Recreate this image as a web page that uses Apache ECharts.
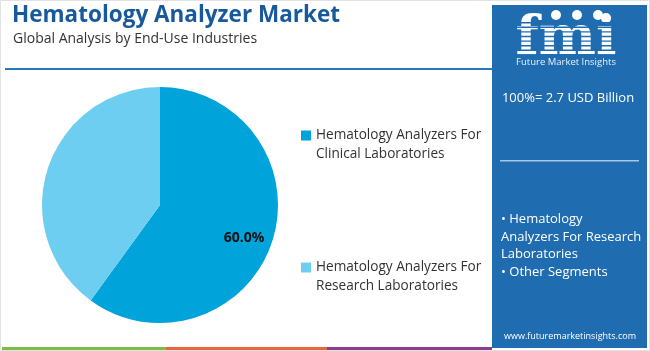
<!DOCTYPE html>
<html><head><meta charset="utf-8">
<script src="https://cdn.jsdelivr.net/npm/echarts@6/dist/echarts.min.js"></script>
<style>html,body{margin:0;padding:0;background:#fff}#c{width:650px;height:351px}</style>
</head><body><div id="c"></div>
<script>
const categories = ['Hematology Analyzers For Clinical Laboratories', 'Hematology Analyzers For Research Laboratories'];
const legendLabels = ['Hematology Analyzers For\nClinical Laboratories', 'Hematology Analyzers For\nResearch Laboratories'];
const values = [60.0, 40.0];
const colors = ['#00a3da', '#6dcef1'];
const labelShown = [true, false];

const chart = echarts.init(document.getElementById('c'), null, {renderer: 'canvas'});
const FONT = '"Open Sans", sans-serif';
const panel = '#1f6cb0';

const data = categories.map((n, i) => ({name: n, value: values[i], itemStyle: {color: colors[i]}}));
const labelData = categories.map((n, i) => ({
  name: n, value: values[i],
  itemStyle: {color: 'rgba(0,0,0,0)'},
  label: {show: labelShown[i]}
}));

const stripes = [];
for (let k = 0; k < 8; k++) {
  stripes.push({type: 'rect', shape: {x: 512, y: 22 + k * 4.6, width: 110, height: 1.4}, style: {fill: panel}, z: 12});
}

chart.setOption({
  backgroundColor: '#fff',
  animation: false,
  legend: {
    orient: 'vertical',
    left: 296,
    top: 102,
    itemGap: 75,
    itemWidth: 10,
    itemHeight: 10,
    icon: 'rect',
    data: categories,
    formatter: name => '\n' + legendLabels[categories.indexOf(name)],
    textStyle: {fontFamily: FONT, fontSize: 13.6, color: '#333', lineHeight: 19},
    selectedMode: false
  },
  series: [
    {
      type: 'pie',
      center: [160, 205],
      radius: [0, 118],
      startAngle: 90,
      clockwise: true,
      data: data,
      label: {show: false},
      labelLine: {show: false},
      silent: true
    },
    {
      type: 'pie',
      center: [160, 205],
      radius: [57, 118],
      startAngle: 90,
      clockwise: true,
      data: labelData,
      legendHoverLink: false,
      silent: true,
      z: 5,
      label: {
        position: 'inside',
        offset: [-2, 5],
        formatter: p => p.value.toFixed(1) + '%',
        fontFamily: FONT, fontWeight: 'bold', fontSize: 14, color: '#111'
      },
      labelLine: {show: false}
    }
  ],
  graphic: [
    {type: 'rect', shape: {x: 0.5, y: 0.5, width: 649, height: 350}, style: {fill: 'none', stroke: '#e2e2e2', lineWidth: 1}, z: 1},
    {type: 'text', left: 12, top: 4, style: {text: 'Hematology Analyzer Market', fill: '#17599b', font: 'bold 22.5px ' + FONT}},
    {type: 'text', left: 13, top: 32, style: {text: 'Global Analysis by End-Use Industries', fill: '#333', font: '14px ' + FONT}},
    {type: 'rect', shape: {x: 5, y: 68, width: 487, height: 2}, style: {fill: '#2c76ba'}},
    {type: 'rect', shape: {x: 492, y: 5, width: 155, height: 343}, style: {fill: panel}, z: 10},
    {type: 'text', x: 566, y: 40, style: {text: 'fmi', fill: '#fff', font: 'bold 54px "DejaVu Serif", serif', textAlign: 'center', textVerticalAlign: 'middle'}, z: 11},
    ...stripes,
    {type: 'circle', shape: {cx: 556, cy: 15, r: 5}, style: {fill: '#fff'}, z: 13},
    {type: 'circle', shape: {cx: 577, cy: 15, r: 5}, style: {fill: '#fff'}, z: 13},
    {type: 'circle', shape: {cx: 598, cy: 15, r: 5}, style: {fill: '#fff'}, z: 13},
    {type: 'text', x: 566, y: 62, style: {text: 'Future Market Insights', fill: '#e8f0f8', font: '9.5px ' + FONT, textAlign: 'center', textVerticalAlign: 'middle'}, z: 13},
    {type: 'text', x: 568, y: 98, style: {text: '100%= 2.7 USD Billion', fill: '#fff', font: '13px ' + FONT, textAlign: 'center', textVerticalAlign: 'middle'}, z: 13},
    {type: 'rect', shape: {x: 500, y: 160, width: 139, height: 1.5}, style: {fill: '#a8c7e6'}, z: 13},
    {type: 'text', x: 501, y: 211, style: {text: '• Hematology\nAnalyzers For Research\nLaboratories\n• Other Segments', fill: '#fff', font: '13px ' + FONT, lineHeight: 17.5}, z: 13},
    {type: 'text', x: 570, y: 336, style: {text: 'www.futuremarketinsights.com', fill: '#fff', font: '9px ' + FONT, textAlign: 'center', textVerticalAlign: 'middle'}, z: 13},
    {type: 'rect', shape: {x: 2, y: 347, width: 164, height: 3}, style: {fill: '#7ebd45'}},
    {type: 'rect', shape: {x: 166, y: 347, width: 161, height: 3}, style: {fill: '#e8673c'}},
    {type: 'rect', shape: {x: 327, y: 347, width: 165, height: 3}, style: {fill: '#8d3b8f'}}
  ]
});
</script></body></html>
